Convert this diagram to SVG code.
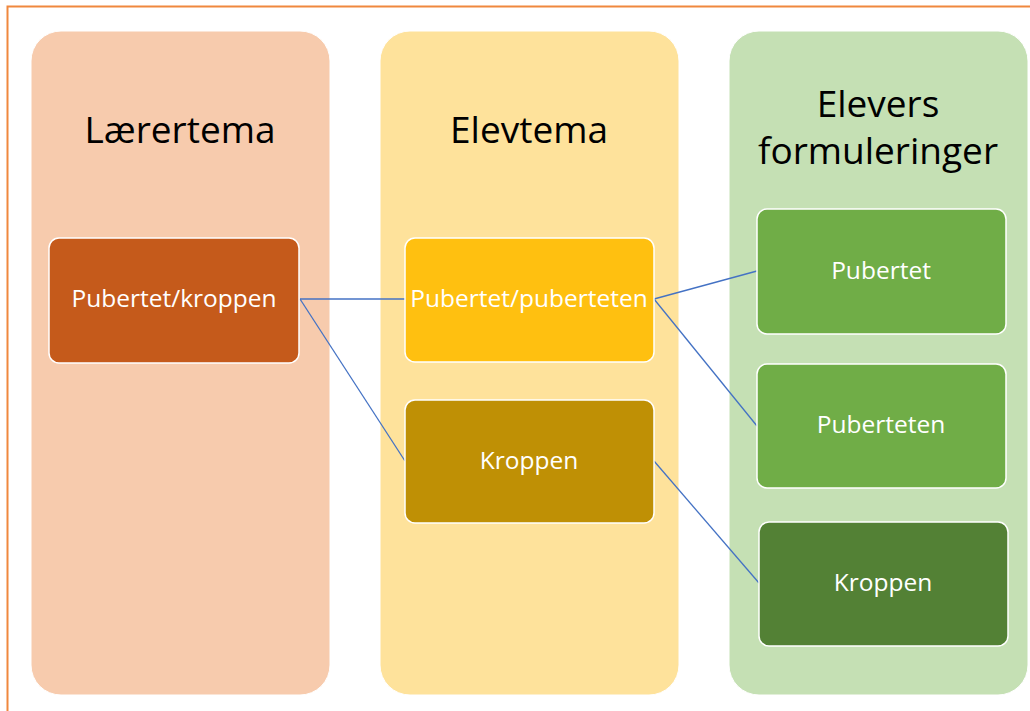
<svg xmlns="http://www.w3.org/2000/svg" width="1030" height="711" viewBox="0 0 1030 711">
  <style>
    .col { stroke: #ffffff; stroke-width: 1; }
    .node { stroke: #ffffff; stroke-width: 1.5; }
    .title { font-family: "Open Sans", "Liberation Sans", sans-serif; font-size: 37px; fill: #000000; text-anchor: middle; }
    .label { font-family: "Open Sans", "Liberation Sans", sans-serif; font-size: 24.5px; fill: #ffffff; text-anchor: middle; }
    .link { stroke: #4472c4; stroke-width: 1.3; fill: none; }
  </style>
  <rect x="0" y="0" width="1030" height="711" fill="#ffffff"/>
  <!-- outer frame -->
  <path d="M7.5 711 V6.5 H1030" fill="none" stroke="#f0883e" stroke-width="2"/>

  <!-- columns -->
  <g id="col-laerertema">
    <rect class="col" x="31" y="31" width="299" height="664" rx="30" fill="#f7cbad"/>
    <text class="title" x="180" y="143">Lærertema</text>
  </g>
  <g id="col-elevtema">
    <rect class="col" x="380" y="31" width="299" height="664" rx="30" fill="#fee29b"/>
    <text class="title" x="529" y="143">Elevtema</text>
  </g>
  <g id="col-formuleringer">
    <rect class="col" x="729" y="31" width="299" height="664" rx="30" fill="#c5e0b4"/>
    <text class="title" x="878" y="117">Elevers</text>
    <text class="title" x="878" y="164">formuleringer</text>
  </g>

  <!-- connectors -->
  <g id="connectors">
    <line class="link" x1="300" y1="299" x2="405" y2="299"/>
    <line class="link" x1="300" y1="299" x2="405" y2="461"/>
    <line class="link" x1="654" y1="299" x2="757" y2="271"/>
    <line class="link" x1="654" y1="299" x2="757" y2="426"/>
    <line class="link" x1="654" y1="461" x2="759" y2="583"/>
  </g>

  <!-- nodes -->
  <g id="n-pubertet-kroppen">
    <rect class="node" x="49" y="238" width="250" height="125" rx="10" fill="#c55a1b"/>
    <text class="label" x="174" y="307">Pubertet/kroppen</text>
  </g>
  <g id="n-pubertet-puberteten">
    <rect class="node" x="405" y="238" width="249" height="124" rx="10" fill="#ffc010"/>
    <text class="label" x="529" y="307">Pubertet/puberteten</text>
  </g>
  <g id="n-kroppen-elev">
    <rect class="node" x="405" y="400" width="249" height="123" rx="10" fill="#bf9005"/>
    <text class="label" x="529" y="469">Kroppen</text>
  </g>
  <g id="n-pubertet">
    <rect class="node" x="757" y="209" width="249" height="125" rx="10" fill="#70ad47"/>
    <text class="label" x="881" y="279">Pubertet</text>
  </g>
  <g id="n-puberteten">
    <rect class="node" x="757" y="364" width="249" height="124" rx="10" fill="#70ad47"/>
    <text class="label" x="881" y="433">Puberteten</text>
  </g>
  <g id="n-kroppen-form">
    <rect class="node" x="759" y="522" width="249" height="124" rx="10" fill="#538135"/>
    <text class="label" x="883" y="591">Kroppen</text>
  </g>
</svg>
